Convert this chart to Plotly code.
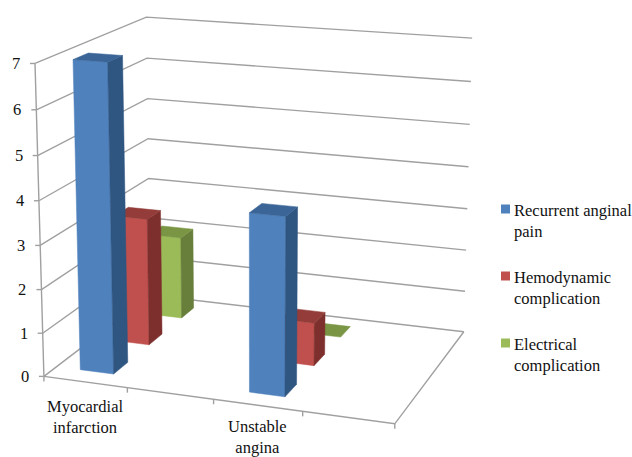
import numpy as np
import plotly.graph_objects as go

# Chart data
categories = ["Myocardial<br>infarction", "Unstable<br>angina"]
category_slots = [0, 2]              # two of the four slots along the front edge hold a group
series_names = ["Recurrent anginal<br>pain", "Hemodynamic<br>complication", "Electrical<br>complication"]
recurrent_pain = [7, 4]
hemodynamic = [3, 1]
electrical = [2, 0]
value_ticks = [0, 1, 2, 3, 4, 5, 6, 7]

# Face colours per series: front, side, top
face_colors = [
    ("#4F81BD", "#2F5581", "#3B6596"),
    ("#C0504D", "#7D2F2D", "#933C39"),
    ("#9BBB59", "#687F3B", "#7A9645"),
]
GRID = "#A0A0A0"
FONT = "Liberation Serif"
TEXT_SIZE = 16.5

# World box: 4 slots wide, 3 series deep, value axis 0..7
BOX = np.array([4.0, 3.0, 7.0])
BAR_W, BAR_D = 0.404, 0.39
BAR_CX, SERIES_Y = 0.49, [0.521, 1.523, 2.525]

# Pinhole camera of the 3-D view
EYE = np.array([1.6938, -4.7397, 1.4163])
TARGET = np.array([-0.0638, 0.1566, 0.1394])
UP = np.array([-0.2945, 0.8193, 0.492])
SCALE = np.array([1.0, 0.7481, 0.8772])
PX, PY, FOCAL = 258.5, 141.9, 1873.3

_f = (TARGET - EYE) / np.linalg.norm(TARGET - EYE)
_s = np.cross(_f, UP); _s /= np.linalg.norm(_s)
_u = np.cross(_s, _f)


def project(x, y, z):
    q = (np.array([x, y, z], float) / BOX - 0.5) * SCALE - EYE
    d = q @ _f
    return PX + FOCAL * (q @ _s) / d, PY - FOCAL * (q @ _u) / d


def polyline(points):
    xs, ys = zip(*[project(*p) for p in points])
    return list(xs), list(ys)


fig = go.Figure()


def add_lines(segments):
    xs, ys = [], []
    for sx, sy in segments:
        xs += list(sx) + [None]
        ys += list(sy) + [None]
    fig.add_trace(go.Scatter(x=xs, y=ys, mode="lines", line=dict(color=GRID, width=1.4),
                             hoverinfo="skip", showlegend=False))


# Gridlines on the left and back walls
add_lines([polyline([(0, 0, v), (0, 3, v), (4, 3, v)]) for v in value_ticks])

# Value axis, floor edges and tick marks
segments = [polyline([(0, 0, 0), (0, 0, 7)]),
            polyline([(0, 0, 0), (4, 0, 0), (4, 3, 0)])]
for v in value_ticks:
    x0, y0 = project(0, 0, v)
    segments.append(([x0 - 5, x0], [y0, y0]))
for slot in range(5):
    x0, y0 = project(slot, 0, 0)
    segments.append(([x0, x0], [y0, y0 + 5]))
add_lines(segments)


def add_face(corners, color):
    xs, ys = polyline(corners)
    fig.add_trace(go.Scatter(x=xs + xs[:1], y=ys + ys[:1], mode="lines", fill="toself",
                             fillcolor=color, line=dict(width=0.5, color=color),
                             hoverinfo="skip", showlegend=False))


def add_bar(slot, series, value):
    x0 = BAR_CX + slot - BAR_W / 2
    x1 = x0 + BAR_W
    y0 = SERIES_Y[series] - BAR_D / 2
    y1 = y0 + BAR_D
    front, side, top = face_colors[series]
    if value > 0:
        add_face([(x0, y0, 0), (x1, y0, 0), (x1, y0, value), (x0, y0, value)], front)
        add_face([(x1, y0, 0), (x1, y1, 0), (x1, y1, value), (x1, y0, value)], side)
    add_face([(x0, y0, value), (x1, y0, value), (x1, y1, value), (x0, y1, value)], top)


# Farther series are painted first so nearer bars overlap them
all_series = [recurrent_pain, hemodynamic, electrical]
for series in (2, 1, 0):
    for slot, value in zip(category_slots, all_series[series]):
        add_bar(slot, series, value)

text_font = dict(family=FONT, size=TEXT_SIZE, color="#111111")
annotations = []
for v in value_ticks:
    x0, y0 = project(0, 0, v)
    annotations.append(dict(x=x0, y=y0, xshift=-19, text=str(v), showarrow=False,
                            xanchor="center", yanchor="middle", font=text_font))
for slot, label, shift in zip(category_slots, categories, [-35, -32]):
    x0, y0 = project(slot + 0.5, 0, 0)
    annotations.append(dict(x=x0, y=y0, yshift=shift, text=label, showarrow=False,
                            xanchor="center", yanchor="middle", align="center", font=text_font))

# Legend entries: swatch and two-line label
legend_x, legend_text_x = 505.5, 512
legend_y = [209, 276, 343]
legend_text_y = [220.5, 287.5, 355]
for name, colors, sy, ty in zip(series_names, face_colors, legend_y, legend_text_y):
    fig.add_trace(go.Scatter(x=[legend_x], y=[sy], mode="markers",
                             marker=dict(symbol="square", size=9, color=colors[0]),
                             hoverinfo="skip", showlegend=False))
    annotations.append(dict(x=legend_text_x, y=ty, text=name, showarrow=False,
                            xanchor="left", yanchor="middle", align="left", font=text_font))

fig.update_layout(
    width=632, height=457, margin=dict(l=0, r=0, t=0, b=0),
    paper_bgcolor="white", plot_bgcolor="white", showlegend=False,
    xaxis=dict(range=[0, 632], visible=False, fixedrange=True),
    yaxis=dict(range=[457, 0], visible=False, fixedrange=True),
    annotations=annotations,
)
fig.write_html("out.html")
